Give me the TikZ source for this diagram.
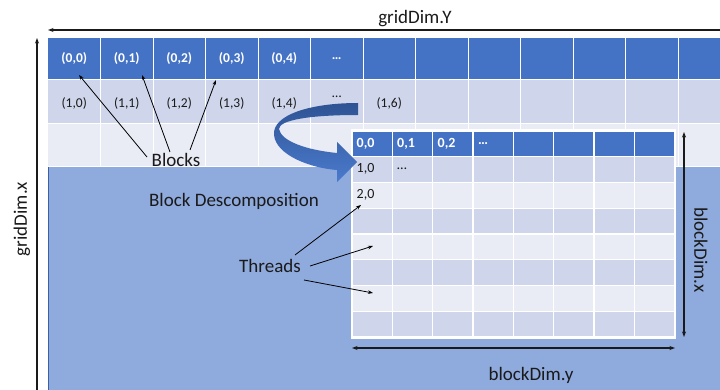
\documentclass[tikz,border=0pt]{standalone}
\usepackage{fontspec}
\setmainfont{Carlito}
\usetikzlibrary{arrows.meta}
\definecolor{hdrblue}{HTML}{4472C4}
\definecolor{rowmid}{HTML}{CFD5EA}
\definecolor{rowlight}{HTML}{E9EBF5}
\definecolor{gridbg}{HTML}{8FAADC}
\definecolor{bandback}{HTML}{2E5394}
\definecolor{bandfront}{HTML}{4B7BCD}
\definecolor{txt}{HTML}{1A1A1A}
\tikzset{
  lbl/.style={font=\fontsize{19}{22}\selectfont, text=txt, inner sep=0pt},
  hcell/.style={font=\fontsize{13.5}{16}\selectfont\bfseries, text=white, inner sep=0pt},
  bcell/.style={font=\fontsize{13.5}{16}\selectfont, text=txt, inner sep=0pt},
  ihcell/.style={font=\fontsize{14}{16}\selectfont\bfseries, text=white, anchor=west, inner sep=0pt},
  icell/.style={font=\fontsize{14}{16}\selectfont, text=txt, anchor=west, inner sep=0pt},
  ptr/.style={draw=black, line width=0.8pt, -{Stealth[length=5pt,width=3.6pt]}},
  dimline/.style={draw=txt, line width=1.1pt},
  dimtip/.style={-{Stealth[length=5.5pt,width=4pt]}},
  dimtips/.style={{Stealth[length=5.5pt,width=4pt]}-{Stealth[length=5.5pt,width=4pt]}},
  sep/.style={draw=white, line width=1pt}
}
\begin{document}
\begin{tikzpicture}[x=1pt,y=-1pt]
\useasboundingbox (0,0) rectangle (720,390);

% grid of blocks
\fill[gridbg] (48,167) rectangle (720,390);
\fill[hdrblue] (48,38) rectangle (720,80);
\fill[rowmid] (48,80) rectangle (720,124);
\fill[rowlight] (48,124) rectangle (720,167);
\foreach \k in {1,...,12}
  \draw[sep] ({48+52.5*\k},38) -- ({48+52.5*\k},167);
\foreach \yy in {80,124,167}
  \draw[sep] (48,\yy) -- (720,\yy);
\draw[hdrblue!85!black, line width=0.6pt] (48,167) -- (48,390);

% block indices
\foreach \i in {0,...,4} {
  \node[hcell] (h\i) at ({74.25+52.5*\i},59) {(0,\i)};
  \node[bcell] (r\i) at ({74.25+52.5*\i},104) {(1,\i)};
}
\node[hcell] (hdots) at (336.75,59) {…};
\node[bcell] (rdots) at (336.75,97) {…};
\node[bcell] (r6) at (389.25,104) {(1,6)};

% threads of one block
\fill[white] (350.5,129.5) rectangle (676,338.5);
\foreach \r/\col in {0/hdrblue,1/rowmid,2/rowlight,3/rowmid,4/rowlight,5/rowmid,6/rowlight,7/rowmid}
  \foreach \c in {0,...,7}
    \fill[\col] ({352+40.33*\c+0.6},{131+25.75*\r+0.6}) rectangle ({352+40.33*(\c+1)-0.6},{131+25.75*(\r+1)-0.6});
\node[ihcell] (t00) at (356.5,143.5) {0,0};
\node[ihcell] (t01) at (397,143.5) {0,1};
\node[ihcell] (t02) at (437.5,143.5) {0,2};
\node[ihcell] (t0d) at (478,143.5) {…};
\node[icell] (t10) at (356.5,169) {1,0};
\node[icell] (t1d) at (397,169) {…};
\node[icell] (t20) at (356.5,195) {2,0};

% curved arrow from the block grid to the thread grid
\shade[top color=bandback, bottom color=bandfront]
  (358,103) .. controls (310,103) and (272,115) .. (274,135)
  .. controls (276,155) and (310,168) .. (337,170)
  -- (337,182) -- (357,162) -- (337,142) -- (337,153)
  .. controls (306,150) and (281,141) .. (279,129)
  .. controls (279,120) and (310,115) .. (358,115) -- cycle;

% dimension arrows
\coordinate (gyR) at (720,30);
\coordinate (gyL) at (48,30);
\draw[dimline, dimtip] (gyR) -- (gyL);
\node[lbl] (gridY) at (415,19) {gridDim.Y};
\coordinate (gxB) at (37,390);
\coordinate (gxT) at (37,38);
\draw[dimline, dimtip] (gxB) -- (gxT);
\node[lbl, rotate=90] (gridX) at (22,219) {gridDim.x};

\coordinate (bxT) at (684,132);
\coordinate (bxB) at (684,337);
\draw[dimline, dimtips] (bxT) -- (bxB);
\node[lbl, rotate=-90] (blockX) at (701,250) {blockDim.x};
\coordinate (byL) at (352,348);
\coordinate (byR) at (675,348);
\draw[dimline, dimtips] (byL) -- (byR);
\node[lbl] (blockY) at (531,375) {blockDim.y};

% labels and pointers
\node[lbl] (blocks) at (176,160) {Blocks};
\node[lbl] (decomp) at (234,201) {Block Descomposition};
\node[lbl] (threads) at (270,266) {Threads};

\coordinate (bp1) at (147,157);
\coordinate (bp2) at (170,152);
\coordinate (bp3) at (190,150);
\coordinate (bq1) at (79,75);
\coordinate (bq2) at (142,75);
\coordinate (bq3) at (216,80);
\draw[ptr] (bp1) -- (bq1);
\draw[ptr] (bp2) -- (bq2);
\draw[ptr] (bp3) -- (bq3);

\coordinate (tp1) at (295,255);
\coordinate (tp2) at (310,266);
\coordinate (tp3) at (304,280);
\coordinate (tq1) at (361,205);
\coordinate (tq2) at (373,246);
\coordinate (tq3) at (373,293);
\draw[ptr] (tp1) -- (tq1);
\draw[ptr] (tp2) -- (tq2);
\draw[ptr] (tp3) -- (tq3);
\end{tikzpicture}
\end{document}
